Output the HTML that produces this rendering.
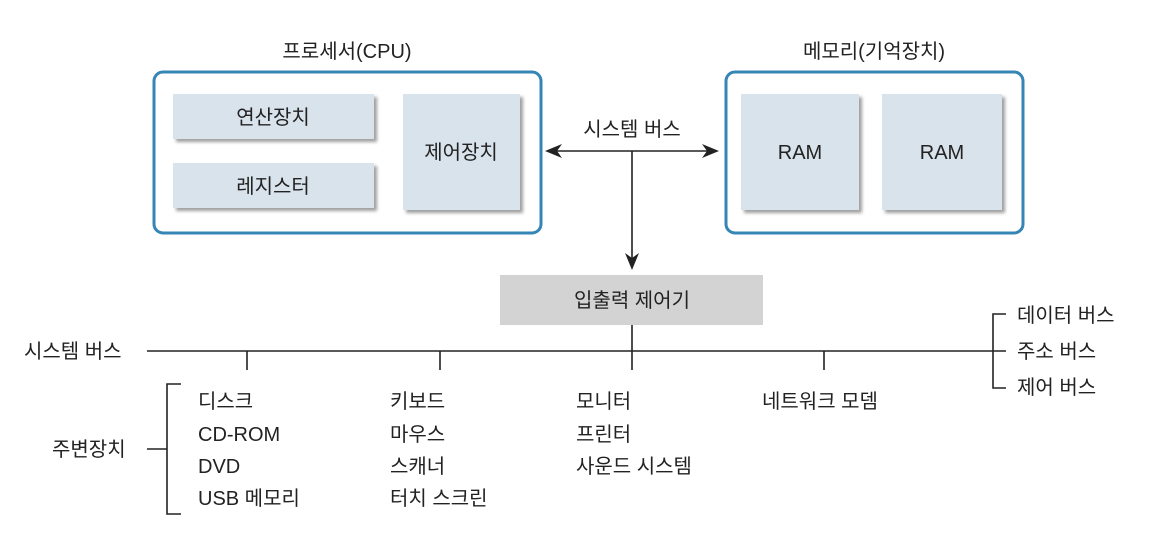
<!DOCTYPE html>
<html><head><meta charset="utf-8"><style>
body{margin:0;background:#fff;}
</style></head><body>
<svg width="1152" height="532" xmlns="http://www.w3.org/2000/svg" font-family="'Liberation Sans','Noto Sans CJK KR',sans-serif" fill="#222">
<defs>
<filter id="sh" x="-10%" y="-10%" width="130%" height="130%"><feDropShadow dx="3" dy="3" stdDeviation="1.5" flood-color="#777" flood-opacity="0.7"/></filter>
</defs>
<g font-size="20">
<text x="347" y="58" text-anchor="middle">프로세서(CPU)</text>
<text x="874" y="58" text-anchor="middle">메모리(기억장치)</text>
</g>
<rect x="154" y="72" width="387" height="161" rx="9" fill="#fff" stroke="#3585b5" stroke-width="3"/>
<rect x="726" y="72" width="297" height="161" rx="9" fill="#fff" stroke="#3585b5" stroke-width="3"/>
<g fill="#d9e3ec" filter="url(#sh)">
<rect x="173" y="94" width="201" height="45"/>
<rect x="173" y="163" width="201" height="45"/>
<rect x="403" y="94" width="117" height="116"/>
<rect x="741" y="94" width="118" height="116"/>
<rect x="882" y="94" width="120" height="116"/>
</g>
<g font-size="20" text-anchor="middle">
<text x="273" y="124">연산장치</text>
<text x="273" y="193">레지스터</text>
<text x="461" y="159">제어장치</text>
<text x="800" y="159">RAM</text>
<text x="942" y="159">RAM</text>
<text x="632" y="136">시스템 버스</text>
</g>
<g stroke="#222" stroke-width="1.6" fill="none">
<line x1="552" y1="151" x2="712" y2="151"/>
<line x1="632" y1="151" x2="632" y2="262"/>
<line x1="632" y1="325" x2="632" y2="370"/>
<line x1="147" y1="351" x2="1006" y2="351"/>
<line x1="247" y1="351" x2="247" y2="370"/>
<line x1="440" y1="351" x2="440" y2="370"/>
<line x1="824" y1="351" x2="824" y2="370"/>
<polyline points="1006,314 993,314 993,388 1006,388"/>
<polyline points="181,384 167,384 167,514 181,514"/>
<line x1="147" y1="449" x2="167" y2="449"/>
</g>
<g fill="#222">
<polygon points="545,151 562,144 557,151 562,158"/>
<polygon points="719,151 702,144 707,151 702,158"/>
<polygon points="632,270 625,253 632,258 639,253"/>
</g>
<rect x="500" y="275" width="263" height="50" fill="#d3d3d3"/>
<g font-size="20">
<text x="632" y="307" text-anchor="middle">입출력 제어기</text>
<text x="24" y="358">시스템 버스</text>
<text x="52" y="456">주변장치</text>
<text x="198" y="408">디스크</text>
<text x="198" y="441">CD-ROM</text>
<text x="198" y="473">DVD</text>
<text x="198" y="505">USB 메모리</text>
<text x="390" y="408">키보드</text>
<text x="390" y="441">마우스</text>
<text x="390" y="473">스캐너</text>
<text x="390" y="505">터치 스크린</text>
<text x="576" y="408">모니터</text>
<text x="576" y="441">프린터</text>
<text x="576" y="473">사운드 시스템</text>
<text x="762" y="408">네트워크 모뎀</text>
<text x="1017" y="322">데이터 버스</text>
<text x="1017" y="358">주소 버스</text>
<text x="1017" y="394">제어 버스</text>
</g>
</svg>
</body></html>
